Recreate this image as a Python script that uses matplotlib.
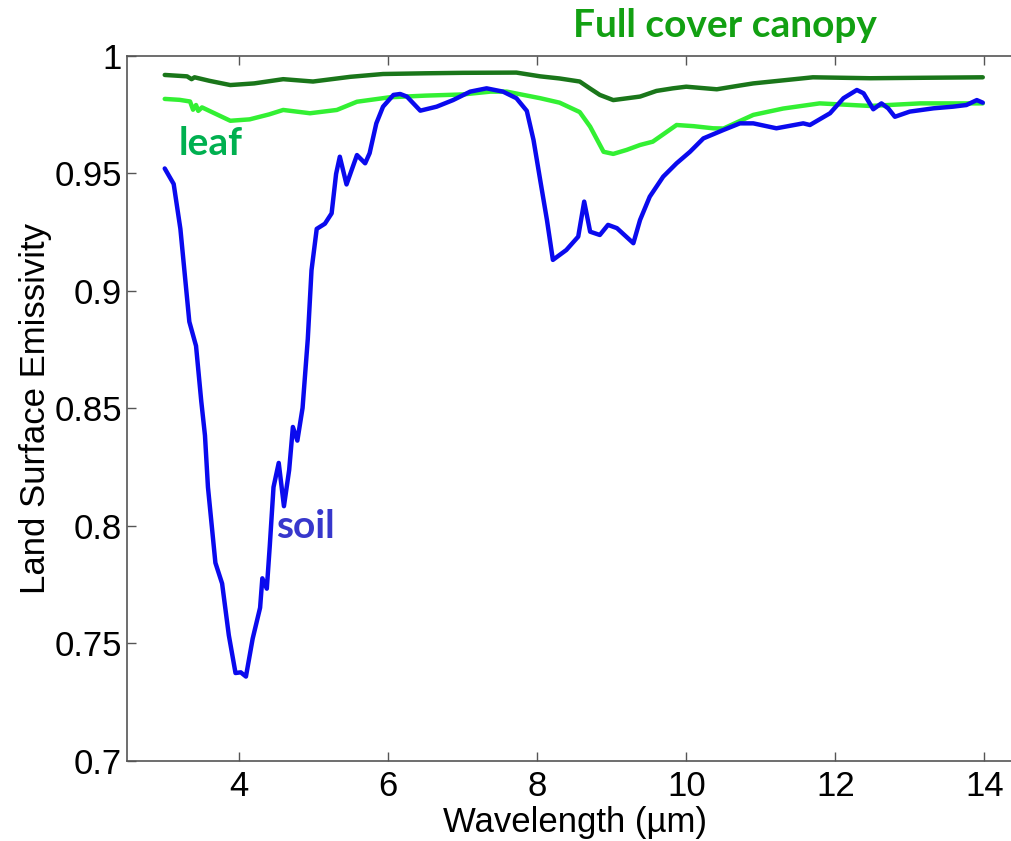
import matplotlib
matplotlib.use("Agg")
import matplotlib.pyplot as plt

# -------------------------------
# Data (wavelength in um, emissivity)
# -------------------------------
canopy_x = [3.0, 3.3, 3.36, 3.4, 3.6, 3.88, 4.2, 4.59, 4.99, 5.49, 5.93, 6.5, 7.0,
            7.72, 8.04, 8.3, 8.57, 8.71, 8.84, 9.02, 9.38, 9.6, 9.82, 10.0, 10.41,
            10.72, 10.9, 11.3, 11.7, 12.47, 13.2, 13.98]
canopy_y = [0.9918, 0.9912, 0.9900, 0.9908, 0.9893, 0.9875, 0.9882, 0.9900, 0.9890,
            0.9910, 0.9922, 0.9925, 0.9927, 0.9928, 0.9912, 0.9903, 0.9890, 0.9860,
            0.9833, 0.9811, 0.9826, 0.9850, 0.9861, 0.9868, 0.9857, 0.9873, 0.9882,
            0.9895, 0.9908, 0.9904, 0.9906, 0.9908]

leaf_x = [3.0, 3.2, 3.34, 3.38, 3.42, 3.45, 3.5, 3.7, 3.88, 4.14, 4.4, 4.59, 4.95,
          5.31, 5.58, 6.02, 6.5, 7.0, 7.37, 7.59, 8.04, 8.3, 8.57, 8.71, 8.89, 9.02,
          9.2, 9.38, 9.55, 9.87, 10.1, 10.36, 10.5, 10.72, 10.9, 11.3, 11.79, 12.47,
          13.14, 13.98]
leaf_y = [0.9816, 0.9812, 0.9805, 0.9770, 0.9790, 0.9765, 0.9780, 0.9750, 0.9723,
          0.9729, 0.9750, 0.9769, 0.9755, 0.9769, 0.9804, 0.9823, 0.9830, 0.9835,
          0.9847, 0.9847, 0.9819, 0.9800, 0.9760, 0.9698, 0.9591, 0.9582, 0.9599,
          0.9620, 0.9634, 0.9705, 0.9700, 0.9691, 0.9690, 0.9722, 0.9748, 0.9775,
          0.9797, 0.9786, 0.9797, 0.9797]

soil_x = [3.00, 3.12, 3.21, 3.33, 3.42, 3.49, 3.54, 3.58, 3.68, 3.77, 3.86, 3.95,
          4.02, 4.09, 4.18, 4.28, 4.31, 4.37, 4.41, 4.46, 4.53, 4.60, 4.67, 4.72,
          4.78, 4.85, 4.92, 4.97, 5.04, 5.15, 5.24, 5.30, 5.35, 5.44, 5.58, 5.69,
          5.75, 5.84, 5.93, 6.07, 6.16, 6.25, 6.43, 6.65, 6.87, 7.10, 7.32, 7.54,
          7.72, 7.86, 7.95, 8.04, 8.13, 8.21, 8.39, 8.55, 8.63, 8.71, 8.84, 8.95,
          9.07, 9.29, 9.38, 9.51, 9.69, 9.87, 10.05, 10.23, 10.50, 10.72, 10.90,
          11.21, 11.57, 11.66, 11.93, 12.11, 12.29, 12.38, 12.51, 12.62, 12.71,
          12.80, 13.00, 13.32, 13.58, 13.76, 13.90, 13.98]
soil_y = [0.952, 0.9454, 0.9263, 0.8868, 0.8765, 0.853, 0.8384, 0.8164, 0.7842,
          0.7754, 0.7534, 0.7373, 0.7376, 0.7358, 0.7519, 0.7651, 0.7776, 0.7732,
          0.7915, 0.8164, 0.8267, 0.8083, 0.8237, 0.842, 0.8362, 0.8501, 0.8794,
          0.9087, 0.9263, 0.9285, 0.9329, 0.9497, 0.9570, 0.9452, 0.9577, 0.9542,
          0.9585, 0.9712, 0.9783, 0.9833, 0.9837, 0.9826, 0.9766, 0.9783, 0.9811,
          0.9847, 0.9861, 0.9847, 0.9819, 0.9765, 0.9641, 0.947, 0.9301, 0.9131,
          0.9173, 0.923, 0.9379, 0.9251, 0.9237, 0.928, 0.9266, 0.9202, 0.9301,
          0.94, 0.9485, 0.9542, 0.9591, 0.9648, 0.9684, 0.9712, 0.9712, 0.9691,
          0.9712, 0.9705, 0.9755, 0.9819, 0.9854, 0.984, 0.9772, 0.9797, 0.9776,
          0.974, 0.9762, 0.9776, 0.9783, 0.979, 0.9811, 0.980]

x_ticks = [4, 6, 8, 10, 12, 14]
y_ticks = [0.7, 0.75, 0.8, 0.85, 0.9, 0.95, 1.0]
y_tick_labels = ["0.7", "0.75", "0.8", "0.85", "0.9", "0.95", "1"]

# -------------------------------
# Figure
# -------------------------------
plt.rcParams["font.family"] = ["Liberation Sans", "DejaVu Sans"]
fig = plt.figure(figsize=(10.11, 8.41), dpi=100)
# right edge of the axes box falls just outside the picture, as in the reference
ax = fig.add_axes([0.1261, 0.0955, 0.8843, 0.8383])

ax.plot(canopy_x, canopy_y, color="#1a761a", lw=3.2, solid_capstyle="round")
ax.plot(leaf_x, leaf_y, color="#33f033", lw=3.2, solid_capstyle="round")
ax.plot(soil_x, soil_y, color="#0a0aee", lw=3.2, solid_capstyle="round")

ax.set_xlim(2.5, 14.5)
ax.set_ylim(0.7, 1.0)
ax.set_xticks(x_ticks)
ax.set_xticklabels([str(t) for t in x_ticks])
ax.set_yticks(y_ticks)
ax.set_yticklabels(y_tick_labels)
ax.tick_params(direction="in", length=6.5, width=1, color="#555555",
               labelsize=25, top=True, right=True)
ax.tick_params(axis="x", pad=7)
ax.tick_params(axis="y", pad=4)
for side in ["left", "bottom", "top", "right"]:
    ax.spines[side].set_color("#555555")
    ax.spines[side].set_linewidth(1.2)

ax.set_xlabel("Wavelength (\u00b5m)", fontsize=25, labelpad=2)
ax.set_ylabel("Land Surface Emissivity", fontsize=25, labelpad=2)

ann_font = ["Lato", "DejaVu Sans"]
fig.text(0.5668, 0.956, "Full cover canopy", color="#12a012", fontsize=28,
         fontweight="bold", family=ann_font, ha="left", va="baseline")
ax.text(3.18, 0.9577, "leaf", color="#00b050", fontsize=28, fontweight="bold",
        family=ann_font, ha="left", va="baseline")
ax.text(4.5, 0.7948, "soil", color="#3737cc", fontsize=28, fontweight="bold",
        family=ann_font, ha="left", va="baseline")

fig.savefig("out.png", dpi=100)
